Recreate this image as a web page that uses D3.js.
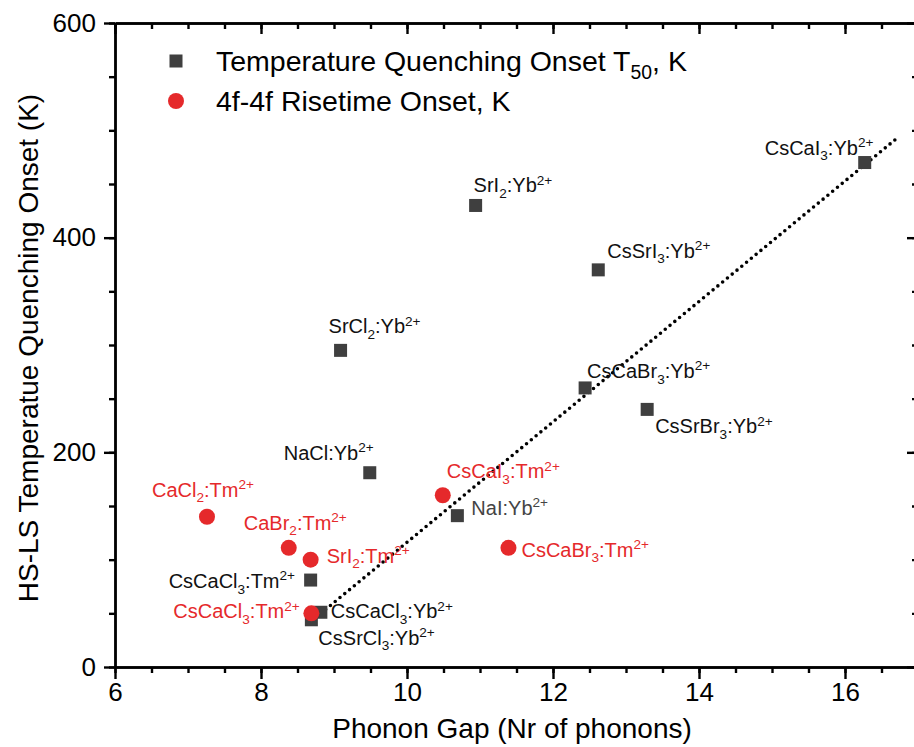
<!DOCTYPE html>
<html><head><meta charset="utf-8">
<script src="https://cdn.jsdelivr.net/npm/d3@7"></script>
<style>
body{margin:0;background:#fff;}
svg{display:block;font-family:"Liberation Sans",Arial,sans-serif;}
</style></head>
<body>
<svg id="c" width="914" height="747"></svg>
<script>
// ---- data ----
const ybNames = ["CsCaI_3:Yb^{2+}","SrI_2:Yb^{2+}","CsSrI_3:Yb^{2+}","SrCl_2:Yb^{2+}","CsCaBr_3:Yb^{2+}","CsSrBr_3:Yb^{2+}","NaCl:Yb^{2+}","NaI:Yb^{2+}","CsCaCl_3:Tm^{2+}","CsCaCl_3:Yb^{2+}","CsSrCl_3:Yb^{2+}"];
const ybX = [16.27, 10.94, 12.62, 9.09, 12.44, 13.29, 9.49, 10.69, 8.68, 8.82, 8.69];
const ybY = [470, 430, 370, 295, 260, 240, 181, 141, 81, 51, 44];
const tmNames = ["CaCl_2:Tm^{2+}","CaBr_2:Tm^{2+}","SrI_2:Tm^{2+}","CsCaCl_3:Tm^{2+}","CsCaI_3:Tm^{2+}","CsCaBr_3:Tm^{2+}"];
const tmX = [7.26, 8.38, 8.68, 8.69, 10.49, 11.39];
const tmY = [140, 111, 100, 50, 160, 111];
const fitX = [8.82, 16.7];
const fitY = [50, 492];
const xTicks = [6, 8, 10, 12, 14, 16];
const yTicks = [0, 200, 400, 600];
const legendLabels = ["Temperature Quenching Onset T_{50}, K", "4f-4f Risetime Onset, K"];
const xTitle = "Phonon Gap (Nr of phonons)";
const yTitle = "HS-LS Temperatue Quenching Onset (K)";

// ---- label layout (pixel offsets from point) ----
const ybLabelOff = [[-100,-8],[-2,-13],[9,-12],[-12,-17],[2,-10],[8,24],[-86,-13],[14,-1],[-142,8],[10,6],[7,25]];
const tmLabelOff = [[-55,-20],[-45,-18],[16,3],[-138,5],[4,-17],[13,9]];

const svg = d3.select("#c");
const x = d3.scaleLinear().domain([6, 17]).range([115, 918]);
const y = d3.scaleLinear().domain([0, 600]).range([667, 23]);
const BLACK = "#3f3f3f", RED = "#e5292b";

function richText(sel, str, fs) {
  const re = /(_\{[^}]*\}|_.|\^\{[^}]*\}|\^.)/g;
  let parts = str.split(re).filter(s => s.length);
  let shift = 0;
  parts.forEach(p => {
    let t = sel.append("tspan");
    if (p[0] === "_" || p[0] === "^") {
      let body = p[1] === "{" ? p.slice(2, -1) : p.slice(1);
      let d = p[0] === "_" ? fs * 0.28 : -fs * 0.38;
      t.attr("dy", d - shift).attr("font-size", fs * 0.68).text(body);
      shift = d;
    } else {
      t.attr("dy", -shift).text(p);
      shift = 0;
    }
  });
}

// ---- axes ----
const axW = 2.4;
function styleAxis(g) {
  g.selectAll("path,line").attr("stroke", "#000").attr("stroke-width", axW);
  g.selectAll("text").attr("font-size", 26).attr("fill", "#000").attr("font-family", '"Liberation Sans",Arial,sans-serif');
}
const minorX = d3.range(6, 17.01, 0.5);
const minorY = d3.range(0, 600.1, 50);

svg.append("g").attr("transform", `translate(0,${y(0)})`)
  .call(d3.axisBottom(x).tickValues(minorX).tickSize(6).tickFormat("").tickSizeOuter(0)).call(styleAxis);
svg.append("g").attr("transform", `translate(0,${y(0)})`)
  .call(d3.axisBottom(x).tickValues(xTicks).tickSize(12).tickPadding(4).tickFormat(d3.format("d")).tickSizeOuter(0)).call(styleAxis);
svg.append("g").attr("transform", `translate(0,${y(600)})`)
  .call(d3.axisTop(x).tickValues(minorX).tickSize(-6).tickFormat("").tickSizeOuter(0)).call(styleAxis);
svg.append("g").attr("transform", `translate(0,${y(600)})`)
  .call(d3.axisTop(x).tickValues(xTicks).tickSize(-11).tickFormat("").tickSizeOuter(0)).call(styleAxis);
svg.append("g").attr("transform", `translate(${x(6)},0)`)
  .call(d3.axisLeft(y).tickValues(minorY).tickSize(6).tickFormat("").tickSizeOuter(0)).call(styleAxis);
svg.append("g").attr("transform", `translate(${x(6)},0)`)
  .call(d3.axisLeft(y).tickValues(yTicks).tickSize(11).tickPadding(8).tickFormat(d3.format("d")).tickSizeOuter(0)).call(styleAxis);
svg.append("g").attr("transform", `translate(${x(17)},0)`)
  .call(d3.axisRight(y).tickValues(minorY).tickSize(-6).tickFormat("").tickSizeOuter(0)).call(styleAxis);
svg.append("g").attr("transform", `translate(${x(17)},0)`)
  .call(d3.axisRight(y).tickValues(yTicks).tickSize(-11).tickFormat("").tickSizeOuter(0)).call(styleAxis);

svg.append("text").attr("x", 512).attr("y", 738).attr("text-anchor", "middle")
  .attr("font-size", 28).text(xTitle);
svg.append("text").attr("transform", `translate(38,348) rotate(-90)`).attr("text-anchor", "middle")
  .attr("font-size", 28).text(yTitle);

svg.append("line")
  .attr("x1", x(fitX[0])).attr("y1", y(fitY[0])).attr("x2", x(fitX[1])).attr("y2", y(fitY[1]))
  .attr("stroke", "#000").attr("stroke-width", 3.6).attr("stroke-linecap", "round")
  .attr("stroke-dasharray", "0 6.2");

const sq = 13;
const ybData = ybX.map((v, i) => ({x: v, y: ybY[i], name: ybNames[i], off: ybLabelOff[i]}));
const tmData = tmX.map((v, i) => ({x: v, y: tmY[i], name: tmNames[i], off: tmLabelOff[i]}));

svg.append("g").selectAll("rect").data(ybData).join("rect")
  .attr("x", d => x(d.x) - sq / 2).attr("y", d => y(d.y) - sq / 2)
  .attr("width", sq).attr("height", sq).attr("fill", BLACK);
svg.append("g").selectAll("circle").data(tmData).join("circle")
  .attr("cx", d => x(d.x)).attr("cy", d => y(d.y)).attr("r", 8).attr("fill", RED);

const lfs = 20;
svg.append("g").selectAll("text").data(ybData).join("text")
  .attr("x", d => x(d.x) + d.off[0]).attr("y", d => y(d.y) + d.off[1])
  .attr("font-size", lfs).attr("fill", (d, i) => i === 7 ? "#444" : "#111")
  .each(function(d) { richText(d3.select(this), d.name, lfs); });
svg.append("g").selectAll("text").data(tmData).join("text")
  .attr("x", d => x(d.x) + d.off[0]).attr("y", d => y(d.y) + d.off[1])
  .attr("font-size", lfs).attr("fill", RED)
  .each(function(d) { richText(d3.select(this), d.name, lfs); });

const lg = svg.append("g");
lg.append("rect").attr("x", 176 - sq / 2).attr("y", 61 - sq / 2).attr("width", sq).attr("height", sq).attr("fill", BLACK);
lg.append("circle").attr("cx", 176).attr("cy", 101).attr("r", 8).attr("fill", RED);
lg.selectAll("text.l").data(legendLabels).join("text").attr("class", "l")
  .attr("x", 216).attr("y", (d, i) => 71 + i * 40).attr("font-size", 28.5).attr("fill", "#000")
  .each(function(d) { richText(d3.select(this), d, 28.5); });
</script>
</body></html>
